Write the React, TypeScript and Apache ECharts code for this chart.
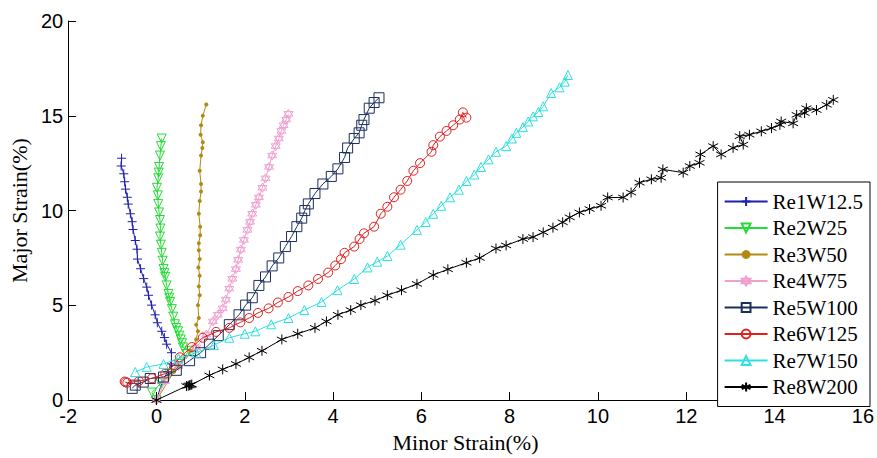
import React, { useEffect, useRef } from "react";
import * as echarts from "echarts";

const seriesNames = ["Re1W12.5", "Re2W25", "Re3W50", "Re4W75", "Re5W100", "Re6W125", "Re7W150", "Re8W200"];

const re1: number[][] = [[0, 0], [0.12, 0.9], [0.25, 1.5], [0.34, 1.91], [0.34, 2.5], [0.23, 2.95], [0.18, 3.3], [0.12, 3.63], [0.02, 4.08], [-0.03, 4.5], [-0.11, 5.01], [-0.18, 5.53], [-0.22, 5.96], [-0.29, 6.41], [-0.36, 6.93], [-0.43, 7.44], [-0.44, 7.96], [-0.48, 8.42], [-0.53, 9.0], [-0.55, 9.41], [-0.59, 9.83], [-0.64, 10.34], [-0.66, 10.7], [-0.7, 11.13], [-0.72, 11.52], [-0.74, 11.94], [-0.8, 12.35], [-0.79, 12.76]];

const re2: number[][] = [[0, 0], [-0.1, 0.4], [0.1, 0.9], [0.3, 1.4], [0.5, 1.9], [0.68, 2.43], [0.75, 2.6], [0.6, 2.78], [0.58, 3.0], [0.55, 3.2], [0.52, 3.4], [0.49, 3.63], [0.45, 3.8], [0.42, 4.0], [0.38, 4.4], [0.35, 4.8], [0.31, 5.18], [0.29, 5.4], [0.27, 5.6], [0.23, 6.05], [0.2, 6.5], [0.18, 6.7], [0.16, 6.92], [0.14, 7.35], [0.12, 7.77], [0.1, 8.2], [0.08, 8.63], [0.09, 9.05], [0.08, 9.5], [0.06, 9.9], [0.04, 10.35], [0.03, 10.8], [0.01, 11.2], [0.04, 11.7], [0.05, 12.0], [0.06, 12.3], [0.08, 12.9], [0.1, 13.4], [0.12, 13.8]];

const re3: number[][] = [[0, 0], [0.4, 1.5], [0.8, 2.6], [0.9, 3.2], [0.94, 3.63], [0.9, 3.98], [0.96, 4.33], [0.94, 5.01], [0.98, 5.53], [0.96, 6.0], [0.98, 6.56], [0.95, 7.0], [0.98, 7.44], [0.96, 7.9], [0.96, 8.28], [0.99, 8.7], [0.99, 9.15], [0.96, 9.83], [0.98, 10.5], [1.01, 11.0], [1.01, 11.4], [0.98, 12.1], [1.01, 12.9], [1.04, 13.3], [1.05, 13.6], [1.0, 14.0], [1.01, 14.5], [1.05, 15.0], [1.13, 15.6]];

const re4: number[][] = [[0, 0], [0.2, 1.0], [0.5, 1.8], [0.9, 2.78], [1.13, 3.46], [1.28, 4.15], [1.39, 4.5], [1.5, 4.84], [1.57, 5.3], [1.65, 5.88], [1.72, 6.4], [1.8, 6.91], [1.85, 7.4], [1.91, 7.94], [1.98, 8.45], [2.06, 8.98], [2.12, 9.4], [2.17, 9.83], [2.25, 10.3], [2.32, 10.7], [2.4, 11.2], [2.47, 11.7], [2.55, 12.3], [2.62, 12.9], [2.7, 13.4], [2.77, 13.8], [2.83, 14.2], [2.88, 14.5], [2.94, 14.8], [2.99, 15.1]];

const re5: number[][] = [[-0.55, 0.62], [-0.48, 0.79], [-0.3, 0.95], [-0.14, 1.14], [0.16, 1.22], [0.45, 1.57], [0.75, 2.08], [1.0, 2.5], [1.2, 2.95], [1.4, 3.4], [1.65, 3.98], [1.87, 4.5], [2.02, 5.01], [2.17, 5.4], [2.32, 6.05], [2.47, 6.5], [2.62, 7.08], [2.77, 7.5], [2.92, 8.1], [3.06, 8.63], [3.18, 9.15], [3.29, 9.6], [3.36, 10.0], [3.44, 10.35], [3.59, 10.9], [3.77, 11.4], [3.96, 11.8], [4.11, 12.2], [4.26, 12.8], [4.33, 13.3], [4.48, 13.8], [4.59, 14.1], [4.65, 14.5], [4.7, 14.8], [4.82, 15.4], [4.93, 15.7], [5.04, 15.95]];

const re6: number[][] = [[-0.72, 0.98], [-0.7, 0.94], [-0.66, 0.92], [-0.4, 1.0], [-0.1, 1.15], [0.2, 1.4], [0.4, 1.85], [0.53, 2.26], [0.8, 2.8], [1.05, 3.29], [1.35, 3.6], [1.65, 3.81], [1.9, 4.1], [2.1, 4.33], [2.3, 4.6], [2.54, 4.84], [2.75, 5.15], [2.99, 5.44], [3.2, 5.75], [3.44, 6.05], [3.66, 6.39], [3.89, 6.73], [4.05, 7.1], [4.18, 7.43], [4.26, 7.77], [4.48, 8.1], [4.6, 8.5], [4.7, 8.8], [4.93, 9.15], [5.08, 9.83], [5.23, 10.2], [5.38, 10.7], [5.53, 11.1], [5.68, 11.56], [5.82, 12.1], [5.97, 12.5], [6.23, 13.1], [6.27, 13.45], [6.42, 13.9], [6.57, 14.2], [6.72, 14.5], [6.87, 14.8], [6.94, 15.18], [7.02, 14.9]];

const re7: number[][] = [[-0.48, 1.48], [-0.22, 1.74], [0.16, 1.91], [0.5, 2.2], [0.9, 2.5], [1.3, 2.9], [1.65, 3.29], [2.0, 3.5], [2.24, 3.63], [2.6, 4.0], [2.99, 4.33], [3.35, 4.75], [3.74, 5.18], [4.1, 5.8], [4.48, 6.39], [4.78, 7.0], [5.0, 7.3], [5.23, 7.6], [5.53, 8.2], [5.9, 8.98], [6.1, 9.4], [6.27, 9.83], [6.45, 10.25], [6.65, 10.7], [6.85, 11.1], [7.02, 11.56], [7.2, 11.9], [7.35, 12.3], [7.52, 12.7], [7.69, 13.1], [7.92, 13.4], [8.05, 13.8], [8.15, 14.1], [8.3, 14.4], [8.42, 14.7], [8.53, 14.97], [8.65, 15.2], [8.76, 15.5], [8.94, 16.2], [9.13, 16.5], [9.25, 16.8], [9.32, 17.15]];

const re8: number[][] = [[0, 0], [0.68, 0.74], [0.72, 0.76], [0.75, 0.78], [0.78, 0.8], [0.8, 0.82], [1.2, 1.3], [1.5, 1.62], [1.8, 1.91], [2.1, 2.25], [2.39, 2.6], [2.84, 3.2], [3.2, 3.5], [3.59, 3.81], [3.85, 4.15], [4.11, 4.5], [4.4, 4.75], [4.63, 5.01], [4.95, 5.25], [5.23, 5.53], [5.55, 5.8], [5.9, 6.13], [6.27, 6.6], [6.6, 6.9], [7.02, 7.25], [7.32, 7.5], [7.69, 8.0], [7.92, 8.16], [8.3, 8.5], [8.53, 8.6], [8.76, 8.85], [8.98, 9.1], [9.2, 9.38], [9.36, 9.64], [9.58, 9.9], [9.81, 10.08], [10.07, 10.25], [10.22, 10.69], [10.57, 10.69], [10.75, 10.95], [10.94, 11.47], [11.21, 11.65], [11.43, 11.73], [11.47, 12.17], [11.93, 12.0], [12.08, 12.35], [12.3, 12.52], [12.32, 12.96], [12.61, 13.4], [12.79, 12.96], [13.06, 13.31], [13.29, 13.48], [13.21, 13.92], [13.43, 14.0], [13.7, 14.18], [13.93, 14.35], [14.12, 14.52], [14.15, 14.7], [14.42, 14.6], [14.5, 15.05], [14.68, 15.14], [14.72, 15.4], [14.95, 15.3], [15.18, 15.58], [15.33, 15.84]];

const seriesData = [re1, re2, re3, re4, re5, re6, re7, re8];
const colors = ["#1f1fb0", "#22dd33", "#b08a12", "#f0a0d0", "#1c2e5c", "#e02020", "#2ee0e0", "#000000"];

const PLUS = "path://M5,0L5,10M0,5L10,5";
const TRI_DOWN = "path://M0,0L10,0L5,8.66Z";
const TRI_UP = "path://M5,0L10,8.66L0,8.66Z";
const HEXAGRAM = "path://M5,0L9.33,7.5L0.67,7.5Z M5,10L0.67,2.5L9.33,2.5Z";
const SQUARE = "path://M0,0L10,0L10,10L0,10Z";
const CIRCLE = "path://M10,5A5,5,0,1,1,0,5A5,5,0,1,1,10,5Z";
const ASTER = "path://M5,0L5,10M0.67,2.5L9.33,7.5M0.67,7.5L9.33,2.5";

const symbols = [PLUS, TRI_DOWN, "circle", HEXAGRAM, SQUARE, CIRCLE, TRI_UP, ASTER];
const symbolSizes = [9, 9, 4, 9, 10, 9, 9, 10];

const SERIF = "'Liberation Serif', 'Times New Roman', serif";
const SANS = "'Liberation Sans', Arial, sans-serif";

export default function App() {
  const ref = useRef<HTMLDivElement>(null);
  useEffect(() => {
    if (!ref.current) return;
    const chart = echarts.init(ref.current, undefined, { renderer: "svg" });
    const series = seriesData.map((d, i) => {
      const c = colors[i];
      const filled = i === 2;
      return {
        name: seriesNames[i],
        type: "line",
        data: d,
        symbol: symbols[i],
        symbolSize: symbolSizes[i],
        showAllSymbol: true,
        lineStyle: { color: c, width: 1 },
        itemStyle: filled
          ? { color: c, borderColor: c, borderWidth: 0 }
          : { color: "none", borderColor: c, borderWidth: 1 },
        emphasis: { disabled: true },
        z: 2 + i,
      };
    });
    chart.setOption({
      animation: false,
      backgroundColor: "#ffffff",
      grid: { left: 63, right: 7, top: 21, bottom: 51, containLabel: false },
      xAxis: {
        type: "value",
        min: -2,
        max: 16,
        interval: 2,
        name: "Minor Strain(%)",
        nameLocation: "middle",
        nameGap: 19,
        nameTextStyle: { fontFamily: SERIF, fontSize: 22, color: "#000" },
        axisLine: { onZero: false, lineStyle: { color: "#000", width: 1 } },
        axisTick: { inside: true, length: 8, lineStyle: { color: "#000" } },
        axisLabel: { fontFamily: SANS, fontSize: 20, color: "#000", margin: 6 },
        splitLine: { show: false },
      },
      yAxis: {
        type: "value",
        min: 0,
        max: 20,
        interval: 5,
        name: "Major Strain(%)",
        nameLocation: "middle",
        nameGap: 30,
        nameTextStyle: { fontFamily: SERIF, fontSize: 22, color: "#000" },
        axisLine: { show: true, onZero: false, lineStyle: { color: "#000", width: 1 } },
        axisTick: { show: true, inside: true, length: 8, lineStyle: { color: "#000" } },
        axisLabel: { fontFamily: SANS, fontSize: 20, color: "#000", margin: 5 },
        splitLine: { show: false },
      },
      legend: {
        data: seriesNames,
        orient: "vertical",
        right: 7,
        top: 182,
        backgroundColor: "#ffffff",
        borderColor: "#000",
        borderWidth: 1,
        borderRadius: 0,
        padding: [9, 7, 9, 6],
        itemWidth: 43,
        itemHeight: 11,
        itemGap: 5.5,
        textStyle: { fontFamily: SERIF, fontSize: 21, color: "#000" },
        selectedMode: false,
      },
      series,
    });
    return () => chart.dispose();
  }, []);
  return (
    <div
      ref={ref}
      style={{ position: "fixed", left: 0, top: 0, width: 877, height: 458, background: "#fff" }}
    />
  );
}
